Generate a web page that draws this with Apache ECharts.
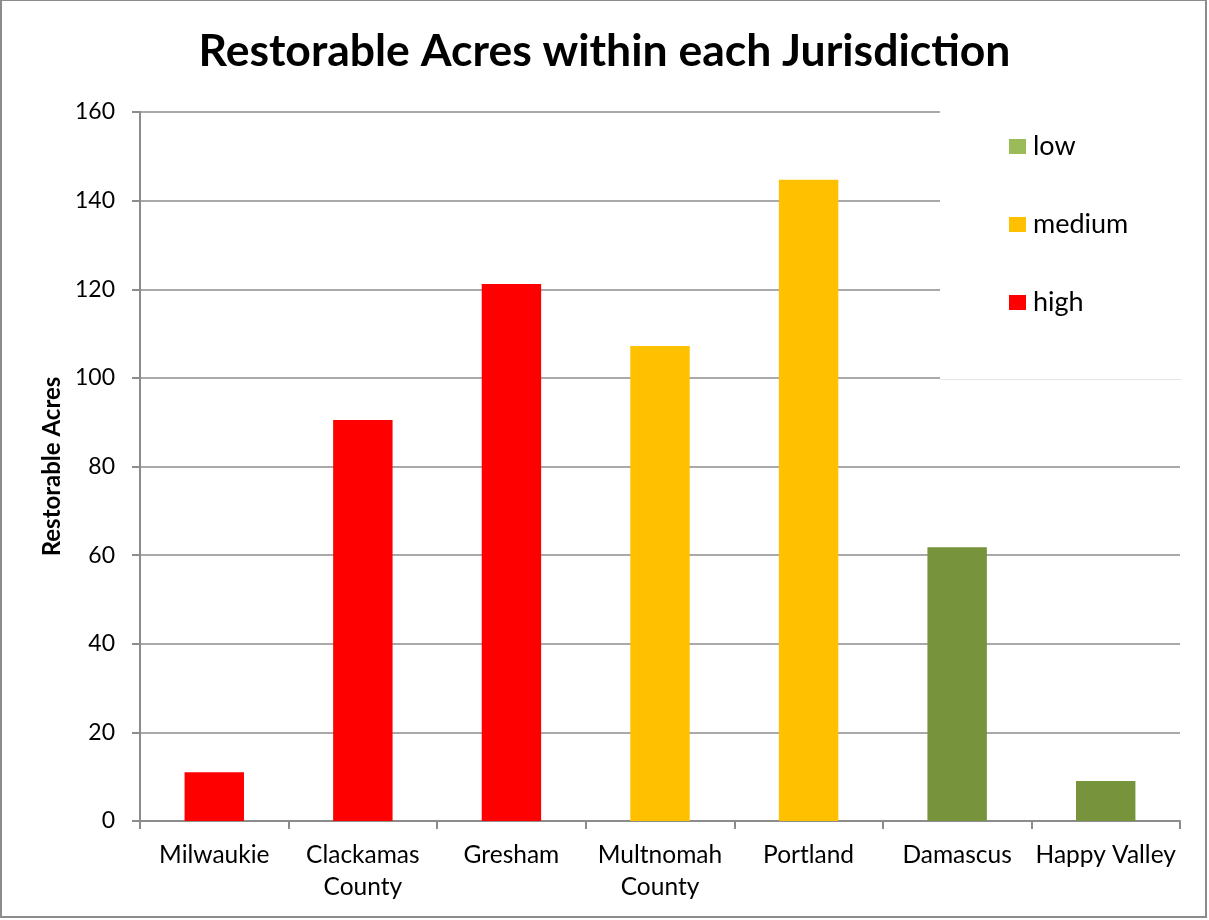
<!DOCTYPE html>
<html>
<head>
<meta charset="utf-8">
<style>
  html, body { margin: 0; padding: 0; background: #fff; }
  #chart { width: 1209px; height: 920px; }
</style>
<script src="https://cdn.jsdelivr.net/npm/echarts@6/dist/echarts.min.js"></script>
</head>
<body>
<div id="chart"></div>
<script>
// Restorable acres per jurisdiction, with each jurisdiction's priority level
const categories = ['Milwaukie', 'Clackamas\nCounty', 'Gresham', 'Multnomah\nCounty', 'Portland', 'Damascus', 'Happy Valley'];
const acres = [11, 90.5, 121.2, 107.2, 144.7, 61.8, 9];
const levels = ['high', 'high', 'high', 'medium', 'medium', 'low', 'low'];
const levelNames = ['low', 'medium', 'high'];
const barColors = { low: '#77933C', medium: '#FFC000', high: '#FF0000' };
const legendColors = { low: '#9BBB59', medium: '#FFC000', high: '#FF0000' };
const yTicks = { min: 0, max: 160, step: 20 };

const FONT = 'Lato';

const series = levelNames.map(function (lvl) {
  return {
    name: lvl,
    type: 'bar',
    stack: 'acres',
    barWidth: '40%',
    itemStyle: { color: barColors[lvl] },
    data: acres.map(function (v, i) { return levels[i] === lvl ? v : '-'; })
  };
});

const chart = echarts.init(document.getElementById('chart'), null, { renderer: 'canvas' });
chart.setOption({
  backgroundColor: '#ffffff',
  animation: false,
  textStyle: { fontFamily: FONT, color: '#000' },
  title: {
    text: 'Restorable Acres within each Jurisdiction',
    left: 'center',
    top: 24,
    textStyle: { fontFamily: FONT, fontWeight: 'bold', fontSize: 44.5, color: '#000' }
  },
  grid: { left: 140, right: 29, top: 112, bottom: 99, containLabel: false },
  legend: {
    orient: 'vertical',
    left: 1009,
    top: 132,
    padding: 0,
    z: 20,
    itemGap: 49,
    itemWidth: 17,
    itemHeight: 15,
    icon: 'rect',
    textStyle: { fontFamily: FONT, fontSize: 27, color: '#000', padding: [0, 0, 0, 2], lineHeight: 29 },
    data: levelNames.map(function (lvl) {
      return { name: lvl, itemStyle: { color: legendColors[lvl] } };
    })
  },
  graphic: [
    {
      type: 'rect', z: 10,
      shape: { x: 940, y: 100, width: 241, height: 279 },
      style: { fill: '#ffffff' }
    },
    {
      type: 'line', z: 10,
      shape: { x1: 940, y1: 379.5, x2: 1181, y2: 379.5 },
      style: { stroke: '#e6e6e6', lineWidth: 1 }
    },
    {
      type: 'rect', z: 10,
      shape: { x: 1, y: 0, width: 1205, height: 917 },
      style: { fill: 'none', stroke: '#8c8c8c', lineWidth: 2 }
    }
  ],
  xAxis: {
    type: 'category',
    data: categories,
    boundaryGap: true,
    axisLine: { lineStyle: { color: '#8c8c8c', width: 2 } },
    axisTick: { show: true, length: 8, alignWithLabel: false, lineStyle: { color: '#8c8c8c', width: 2 } },
    axisLabel: { fontFamily: FONT, fontSize: 24.5, color: '#000', margin: 18, lineHeight: 32, interval: 0 }
  },
  yAxis: {
    type: 'value',
    min: yTicks.min,
    max: yTicks.max,
    interval: yTicks.step,
    name: 'Restorable Acres',
    nameLocation: 'middle',
    nameGap: 74,
    nameRotate: 90,
    nameTextStyle: { fontFamily: FONT, fontWeight: 'bold', fontSize: 24, color: '#000' },
    axisLine: { show: true, lineStyle: { color: '#8c8c8c', width: 2 } },
    axisTick: { show: true, length: 8, lineStyle: { color: '#8c8c8c', width: 2 } },
    axisLabel: { fontFamily: FONT, fontSize: 23, color: '#000', margin: 25 },
    splitLine: { show: true, lineStyle: { color: '#8c8c8c', width: 1.5 } }
  },
  series: series
});
</script>
</body>
</html>
